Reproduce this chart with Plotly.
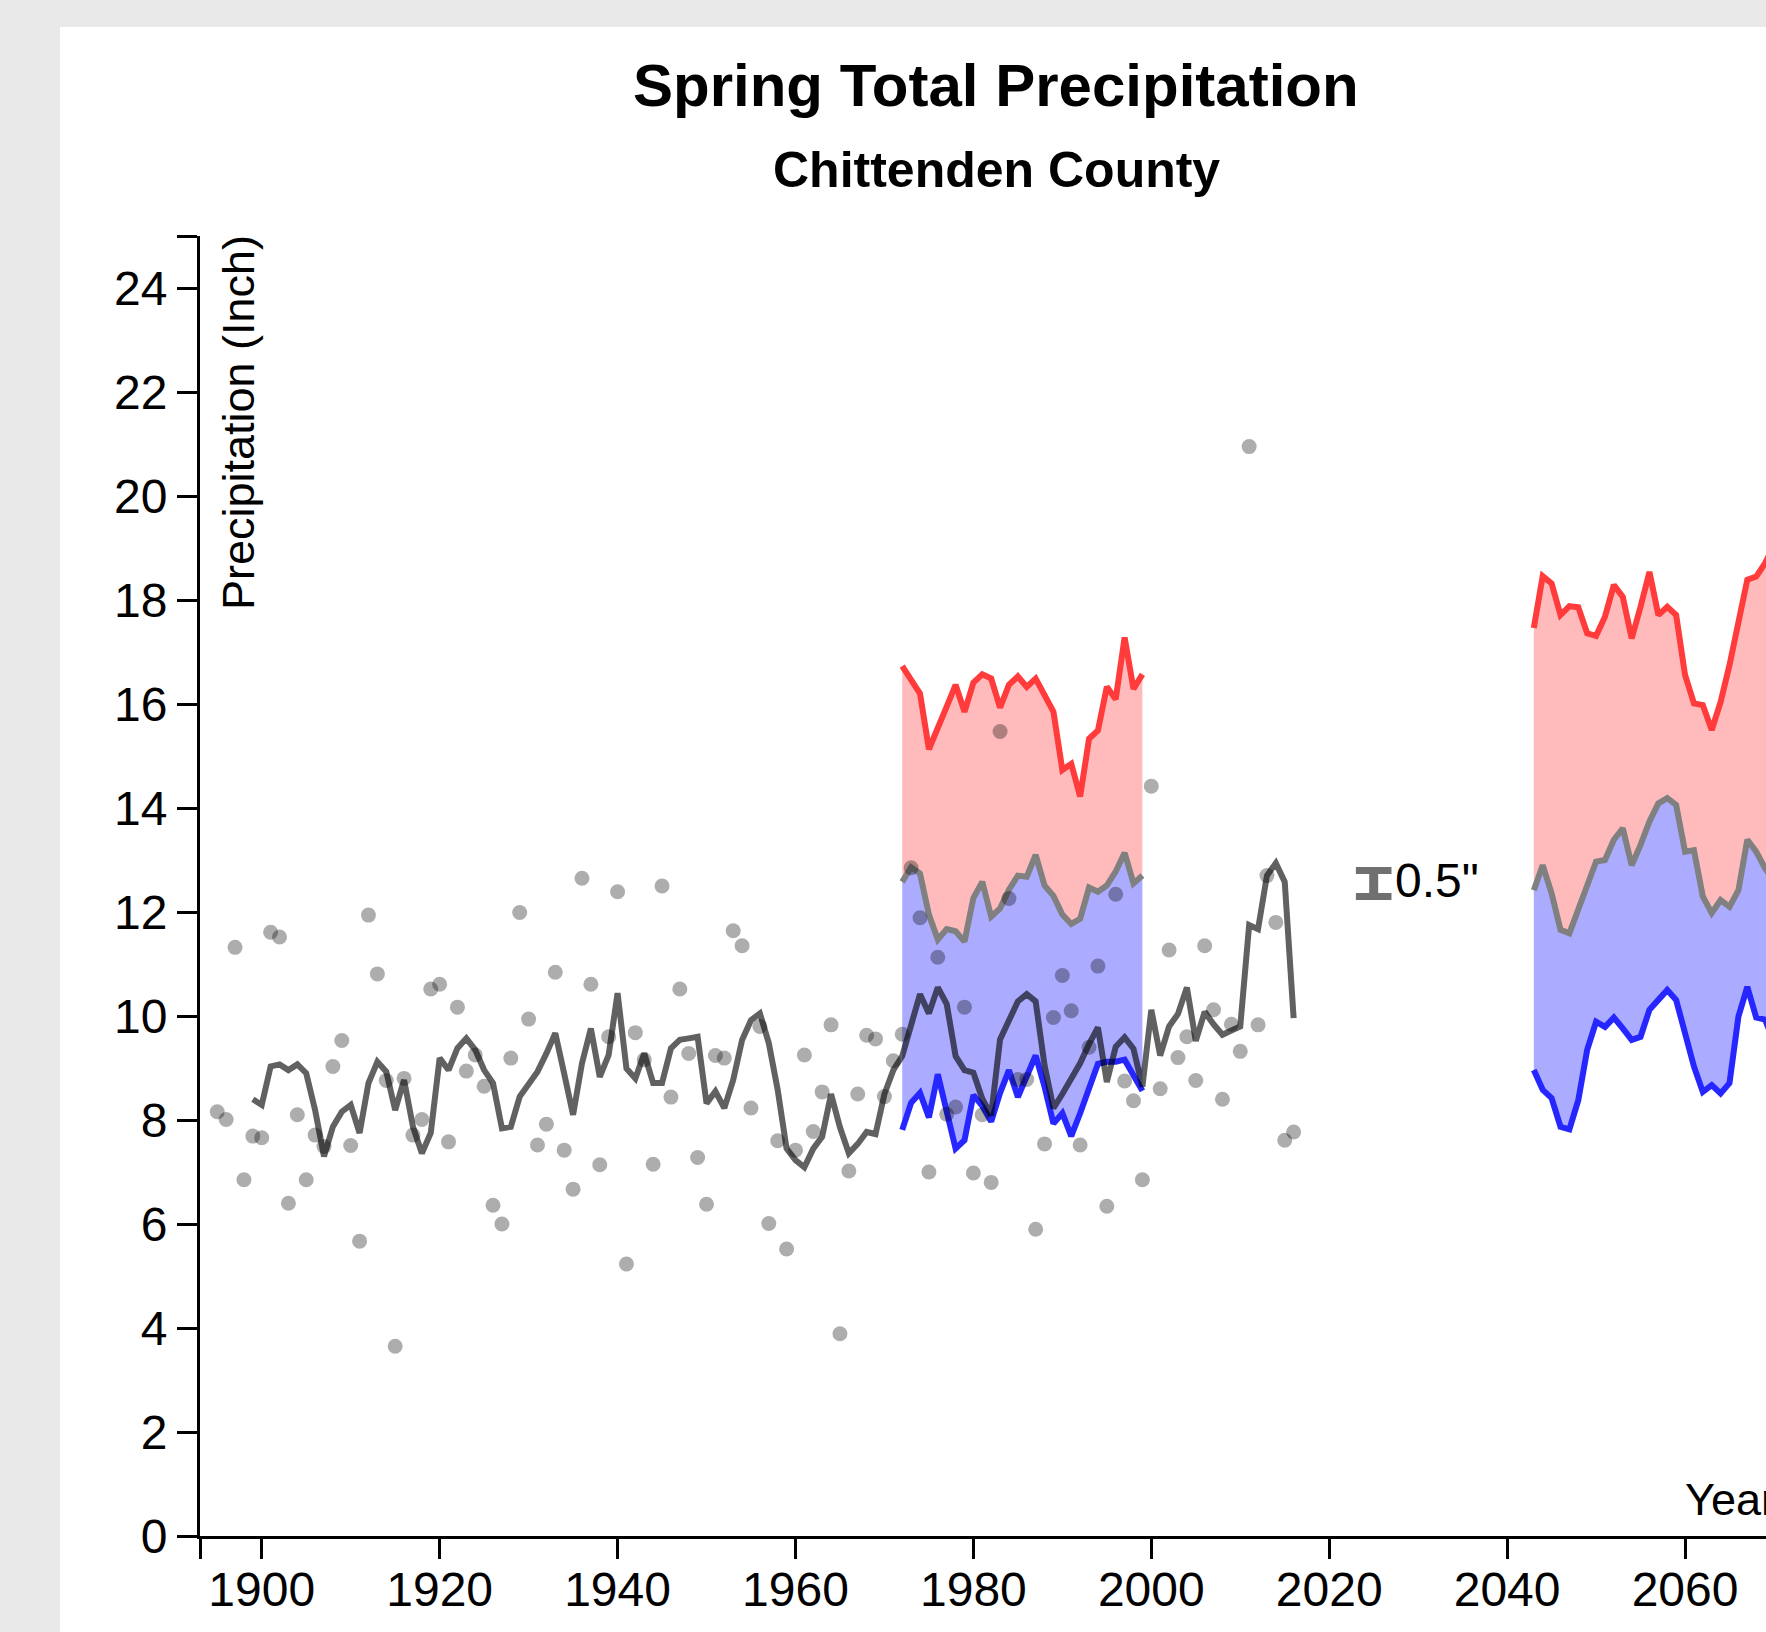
import plotly.graph_objects as go

# ---------------- data ----------------
obs_years = list(range(1895, 2017))
obs_values = [
    8.16, 8.01, 11.32, 6.85, 7.69, 7.66, 11.61, 11.52, 6.40, 8.10,   # 1895-1904
    6.85, 7.71, 7.49, 9.03, 9.53, 7.51, 5.67, 11.94, 10.81, 8.76,    # 1905-1914
    3.65, 8.80, 7.71, 8.01, 10.52, 10.61, 7.58, 10.17, 8.94, 9.25,   # 1915-1924
    8.65, 6.36, 6.00, 9.19, 11.99, 9.94, 7.52, 7.92, 10.84, 7.42,    # 1925-1934
    6.67, 12.65, 10.61, 7.14, 9.60, 12.39, 5.23, 9.68, 9.16, 7.15,   # 1935-1944
    12.50, 8.44, 10.52, 9.28, 7.28, 6.38, 9.24, 9.19, 11.64, 11.35,  # 1945-1954
    8.23, 9.80, 6.01, 7.60, 5.52, 7.42, 9.25, 7.78, 8.54, 9.83,      # 1955-1964
    3.89, 7.02, 8.50, 9.63, 9.56, 8.45, 9.14, 9.65, 12.85, 11.89,    # 1965-1974
    7.00, 11.13, 8.11, 8.25, 10.17, 6.98, 8.10, 6.80, 15.47, 12.26,  # 1975-1984
    8.78, 8.78, 5.90, 7.54, 9.97, 10.78, 10.10, 7.52, 9.40, 10.96,   # 1985-1994
    6.34, 12.34, 8.75, 8.37, 6.85, 14.42, 8.60, 11.27, 9.20, 9.60,   # 1995-2004
    8.76, 11.35, 10.12, 8.40, 9.84, 9.32, 20.95, 9.83, 12.70, 11.80, # 2005-2014
    7.61, 7.77,                                                      # 2015-2016
]

mean_years = list(range(1899, 2017))
mean_values = [
    8.40, 8.29, 9.03, 9.07, 8.96, 9.07, 8.90, 8.19, 7.30, 7.87,      # 1899-1908
    8.16, 8.29, 7.75, 8.71, 9.12, 8.93, 8.19, 8.77, 7.87, 7.36,      # 1909-1918
    7.75, 9.19, 8.96, 9.38, 9.57, 9.35, 8.96, 8.71, 7.84, 7.87,      # 1919-1928
    8.45, 8.71, 8.93, 9.28, 9.67, 8.89, 8.10, 9.09, 9.76, 8.83,      # 1929-1938
    9.25, 10.44, 8.99, 8.80, 9.28, 8.71, 8.71, 9.38, 9.54, 9.57,     # 1939-1948
    9.60, 8.32, 8.55, 8.23, 8.77, 9.54, 9.92, 10.05, 9.48, 8.58,     # 1949-1958
    7.45, 7.23, 7.09, 7.45, 7.68, 8.50, 7.86, 7.36, 7.54, 7.77,      # 1959-1968
    7.73, 8.50, 8.96, 9.23, 9.78, 10.42, 10.05, 10.55, 10.23, 9.23,  # 1969-1978
    8.96, 8.91, 8.41, 8.09, 9.55, 9.91, 10.28, 10.42, 10.28, 9.05,   # 1979-1988
    8.23, 8.50, 8.78, 9.09, 9.46, 9.78, 8.73, 9.41, 9.59, 9.37,      # 1989-1998
    8.64, 10.12, 9.24, 9.80, 10.04, 10.55, 9.52, 10.08, 9.84, 9.64,  # 1999-2008
    9.72, 9.80, 11.75, 11.67, 12.70, 12.94, 12.58, 9.96,             # 2009-2016
]

hist_years = list(range(1972, 2000))
hist_high = [16.73, 16.46, 16.20, 15.13, 15.57, 15.95, 16.37, 15.85, 16.41, 16.57,
             16.49, 15.93, 16.37, 16.53, 16.33, 16.49, 16.17, 15.85, 14.73, 14.85,
             14.22, 15.33, 15.49, 16.33, 16.09, 17.28, 16.29, 16.57]
hist_mid = [12.58, 12.86, 12.74, 11.95, 11.47, 11.67, 11.63, 11.43, 12.27, 12.58,
            11.91, 12.07, 12.43, 12.70, 12.68, 13.10, 12.51, 12.31, 11.95, 11.77,
            11.87, 12.47, 12.39, 12.51, 12.78, 13.14, 12.55, 12.70]
hist_low = [7.81, 8.33, 8.52, 8.05, 8.88, 8.17, 7.45, 7.61, 8.48, 8.27,
            7.97, 8.52, 8.96, 8.44, 8.84, 9.24, 8.64, 7.93, 8.13, 7.69,
            8.13, 8.60, 9.08, 9.12, 9.12, 9.16, 8.84, 8.56]

fut_years = list(range(2043, 2071))
fut_high = [17.46, 18.46, 18.32, 17.71, 17.88, 17.86, 17.36, 17.31, 17.68, 18.29,
            18.06, 17.26, 17.87, 18.54, 17.71, 17.87, 17.71, 16.56, 16.01, 15.98,
            15.50, 16.04, 16.75, 17.62, 18.39, 18.45, 18.71, 19.05]
fut_mid = [12.42, 12.90, 12.36, 11.66, 11.59, 12.07, 12.49, 12.97, 13.00, 13.39,
           13.61, 12.90, 13.29, 13.74, 14.09, 14.19, 14.06, 13.16, 13.19, 12.30,
           11.98, 12.23, 12.10, 12.42, 13.39, 13.16, 12.84, 12.60]
fut_low = [8.96, 8.58, 8.42, 7.87, 7.82, 8.38, 9.35, 9.89, 9.79, 9.97,
           9.76, 9.54, 9.60, 10.12, 10.31, 10.50, 10.31, 9.70, 9.03, 8.54,
           8.67, 8.51, 8.71, 9.99, 10.56, 9.97, 9.93, 9.50]

x_tick_vals = [1900, 1920, 1940, 1960, 1980, 2000, 2020, 2040, 2060]
y_tick_vals = [0, 2, 4, 6, 8, 10, 12, 14, 16, 18, 20, 22, 24]

TITLE = "Spring Total Precipitation"
SUBTITLE = "Chittenden County"
Y_TITLE = "Precipitation (Inch)"
X_TITLE = "Year"
SCALE_LABEL = '0.5"'
SCALE_X = 2025
SCALE_LOW = 12.3
SCALE_LEN = 0.5

# ---------------- layout geometry ----------------
W, H = 1766, 1632
ML, MR, MT, MB = 200, 0, 236, 96
PW, PH = W - ML - MR, H - MT - MB
PX_PER_YEAR = 8.8956
X_MIN = 1893.06
X_MAX = X_MIN + PW / PX_PER_YEAR
Y_MIN, Y_MAX = 0, 25

def px(xp):
    return (xp - ML) / PW

def py(yp):
    return (H - MB - yp) / PH

FONT = "Liberation Sans, Arial, Helvetica, sans-serif"
RED = "#ff3b3b"
BLUE = "#2626ff"
GRAY = "#808080"
PINK_FILL = "#ffbbbb"
BLUE_FILL = "#ababff"
LINE_W = 6

fig = go.Figure()

# fills (drawn first)
for yrs, lo, mid, hi in [(hist_years, hist_low, hist_mid, hist_high),
                         (fut_years, fut_low, fut_mid, fut_high)]:
    fig.add_trace(go.Scatter(x=yrs, y=lo, mode="lines", line=dict(width=0),
                             hoverinfo="skip", showlegend=False))
    fig.add_trace(go.Scatter(x=yrs, y=mid, mode="lines", line=dict(width=0),
                             fill="tonexty", fillcolor=BLUE_FILL,
                             hoverinfo="skip", showlegend=False))
    fig.add_trace(go.Scatter(x=yrs, y=hi, mode="lines", line=dict(width=0),
                             fill="tonexty", fillcolor=PINK_FILL,
                             hoverinfo="skip", showlegend=False))

# model lines
for yrs, lo, mid, hi in [(hist_years, hist_low, hist_mid, hist_high),
                         (fut_years, fut_low, fut_mid, fut_high)]:
    fig.add_trace(go.Scatter(x=yrs, y=hi, mode="lines",
                             line=dict(color=RED, width=LINE_W), showlegend=False))
    fig.add_trace(go.Scatter(x=yrs, y=mid, mode="lines",
                             line=dict(color=GRAY, width=LINE_W), showlegend=False))
    fig.add_trace(go.Scatter(x=yrs, y=lo, mode="lines",
                             line=dict(color=BLUE, width=LINE_W), showlegend=False))

# observed running line
fig.add_trace(go.Scatter(x=mean_years, y=mean_values, mode="lines",
                         line=dict(color="rgba(0,0,0,0.62)", width=LINE_W),
                         showlegend=False))

# observed annual dots
fig.add_trace(go.Scatter(x=obs_years, y=obs_values, mode="markers",
                         marker=dict(size=15, color="rgba(0,0,0,0.32)", line=dict(width=0)),
                         showlegend=False))

shapes = [
    # white card
    dict(type="rect", xref="paper", yref="paper", x0=px(60), x1=1.3,
         y0=-0.5, y1=py(27), fillcolor="white", line=dict(width=0), layer="below"),
    # scale bar
    dict(type="line", xref="x", yref="y", x0=SCALE_X, x1=SCALE_X,
         y0=SCALE_LOW, y1=SCALE_LOW + SCALE_LEN, line=dict(color="#707070", width=9)),
    dict(type="line", xref="x", yref="y", x0=SCALE_X - 2, x1=SCALE_X + 2,
         y0=SCALE_LOW, y1=SCALE_LOW, line=dict(color="#707070", width=7)),
    dict(type="line", xref="x", yref="y", x0=SCALE_X - 2, x1=SCALE_X + 2,
         y0=SCALE_LOW + SCALE_LEN, y1=SCALE_LOW + SCALE_LEN,
         line=dict(color="#707070", width=7)),
]

annotations = [
    dict(text="<b>" + TITLE + "</b>", xref="paper", yref="paper", x=px(996), y=py(85.5),
         xanchor="center", yanchor="middle", showarrow=False,
         font=dict(family=FONT, size=60, color="black")),
    dict(text="<b>" + SUBTITLE + "</b>", xref="paper", yref="paper", x=px(996), y=py(170.5),
         xanchor="center", yanchor="middle", showarrow=False,
         font=dict(family=FONT, size=50, color="black")),
    dict(text=Y_TITLE, xref="paper", yref="paper", x=px(238.6), y=py(233),
         xanchor="center", yanchor="top", textangle=-90, showarrow=False,
         font=dict(family=FONT, size=45, color="black")),
    dict(text=X_TITLE, xref="paper", yref="paper", x=px(1683), y=py(1499),
         xanchor="left", yanchor="middle", showarrow=False,
         font=dict(family=FONT, size=45, color="black")),
    dict(text=SCALE_LABEL, xref="x", yref="y", x=SCALE_X + 2.2, y=SCALE_LOW + SCALE_LEN / 2 + 0.05,
         xanchor="left", yanchor="middle", showarrow=False,
         font=dict(family=FONT, size=48, color="black")),
]

fig.update_layout(
    width=W, height=H,
    margin=dict(l=ML, r=MR, t=MT, b=MB, pad=0),
    paper_bgcolor="#e9e9e9",
    plot_bgcolor="rgba(0,0,0,0)",
    showlegend=False,
    shapes=shapes,
    annotations=annotations,
    font=dict(family=FONT, size=48, color="black"),
    xaxis=dict(range=[X_MIN, X_MAX], showgrid=False, zeroline=False,
               showline=True, linecolor="black", linewidth=3,
               ticks="outside", ticklen=20, tickwidth=3, tickcolor="black",
               tickvals=[X_MIN] + x_tick_vals,
               ticktext=[""] + [str(v) for v in x_tick_vals],
               tickfont=dict(family=FONT, size=48, color="black"),
               ticklabelstandoff=-11,
               automargin=False, fixedrange=True),
    yaxis=dict(range=[Y_MIN, Y_MAX], showgrid=False, zeroline=False,
               showline=True, linecolor="black", linewidth=3,
               ticks="outside", ticklen=20, tickwidth=3, tickcolor="black",
               tickvals=y_tick_vals + [Y_MAX],
               ticktext=[str(v) for v in y_tick_vals] + [""],
               tickfont=dict(family=FONT, size=48, color="black"),
               automargin=False, fixedrange=True),
)

fig.write_html("out.html", config={"displayModeBar": False},
               post_script="document.body.style.margin='0';document.body.style.overflow='hidden';")
